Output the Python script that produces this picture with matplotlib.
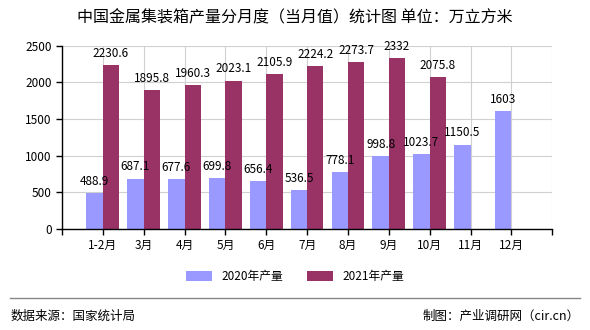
import matplotlib
matplotlib.use("Agg")
import matplotlib.pyplot as plt
import numpy as np

plt.rcParams['font.family'] = ['Noto Sans CJK SC', 'DejaVu Sans']

months = ["1-2月", "3月", "4月", "5月", "6月", "7月", "8月", "9月", "10月", "11月", "12月"]
prod_2020 = [488.9, 687.1, 677.6, 699.8, 656.4, 536.5, 778.1, 998.8, 1023.7, 1150.5, 1603]
prod_2021 = [2230.6, 1895.8, 1960.3, 2023.1, 2105.9, 2224.2, 2273.7, 2332, 2075.8, None, None]
labels_2020 = ["488.9", "687.1", "677.6", "699.8", "656.4", "536.5", "778.1", "998.8", "1023.7", "1150.5", "1603"]
labels_2021 = ["2230.6", "1895.8", "1960.3", "2023.1", "2105.9", "2224.2", "2273.7", "2332", "2075.8"]

fig = plt.figure(figsize=(5.9, 3.3), dpi=100)
ax = fig.add_axes([0.105, 0.306, 0.831, 0.556])

x = np.arange(1, len(months) + 1)
w = 0.4
c20, c21 = "#9999ff", "#993366"

ax.bar(x - w / 2, prod_2020, w, color=c20, label="2020年产量", zorder=2)
x21 = [xi for xi, v in zip(x, prod_2021) if v is not None]
v21 = [v for v in prod_2021 if v is not None]
ax.bar(np.array(x21) + w / 2, v21, w, color=c21, label="2021年产量", zorder=2)

for xi, v, t in zip(x, prod_2020, labels_2020):
    ax.text(xi - w / 2, v + 70, t, ha="center", va="bottom", fontsize=8.5, zorder=3)
for xi, v, t in zip(x21, v21, labels_2021):
    ax.text(xi + w / 2, v + 70, t, ha="center", va="bottom", fontsize=8.5, zorder=3)

ax.set_xlim(0, len(months) + 1)
ax.set_ylim(0, 2500)
ax.set_yticks(range(0, 2501, 500))
ax.set_xticks(range(0, len(months) + 2))
ax.set_xticklabels([""] + months + [""], fontsize=8.5)
ax.tick_params(axis="y", labelsize=8.5, length=4, width=1)
ax.tick_params(axis="x", length=4, width=1)
ax.grid(True, color="#d0d0d0", linewidth=0.8, zorder=0)
for s in ["top", "right"]:
    ax.spines[s].set_visible(False)
ax.spines["left"].set_linewidth(1)
ax.spines["bottom"].set_linewidth(1)

fig.text(0.5, 0.945, "中国金属集装箱产量分月度（当月值）统计图 单位：万立方米",
         ha="center", va="center", fontsize=11.5)

fig.legend(loc="center", bbox_to_anchor=(0.5, 0.163), ncol=2, frameon=False,
           fontsize=8.5, handlelength=2.2, handleheight=0.9, columnspacing=2.0)

fig.add_artist(plt.Line2D([0.017, 0.983], [0.098, 0.098], color="#888888", linewidth=1,
                          transform=fig.transFigure))
fig.text(0.017, 0.042, "数据来源：国家统计局", ha="left", va="center", fontsize=9)
fig.text(0.983, 0.042, "制图：产业调研网（cir.cn）", ha="right", va="center", fontsize=9)

fig.savefig("out.png", dpi=100, facecolor="white")
